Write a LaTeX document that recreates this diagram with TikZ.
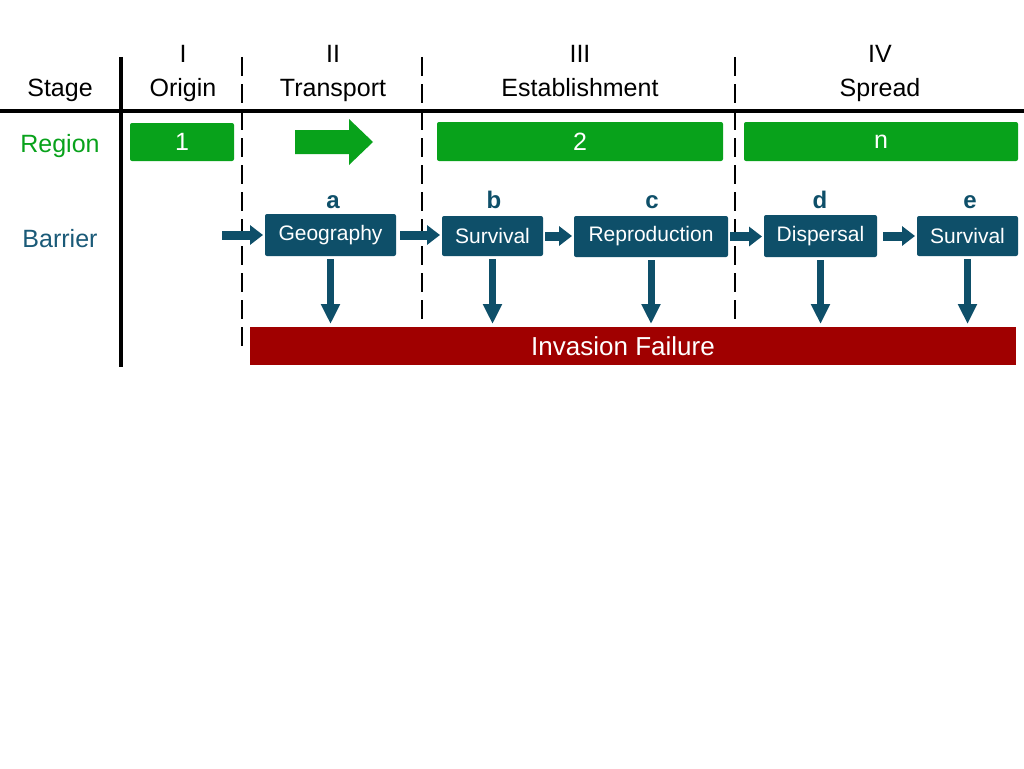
\documentclass[tikz,border=0pt]{standalone}
\usepackage{fontspec}
\setmainfont{Liberation Sans}
\usetikzlibrary{arrows.meta}
\definecolor{grn}{HTML}{08A21B}
\definecolor{tealb}{HTML}{0E4F69}
\definecolor{tealt}{HTML}{1A5A78}
\definecolor{redb}{HTML}{A00000}
\begin{document}
\begin{tikzpicture}[x=1pt,y=-1pt,
  every node/.style={inner sep=0pt, outer sep=0pt},
  hdr/.style={font=\fontsize{25}{30}\selectfont, anchor=base},
  greenbox/.style={fill=grn, rounded corners=2pt, text=white, font=\fontsize{25}{30}\selectfont},
  barbox/.style={fill=tealb, rounded corners=2pt, text=white, font=\fontsize{21}{25}\selectfont},
  lbl/.style={text=tealb, font=\bfseries\fontsize{24}{28}\selectfont, anchor=base},
  harrow/.style={draw=tealb, line width=9pt, -{Triangle[width=19pt,length=13pt]}},
  varrow/.style={draw=tealb, line width=7pt, -{Triangle[width=18pt,length=20pt]}, shorten <=3pt, shorten >=3pt},
  divider/.style={line width=2.6pt, dash pattern=on 19pt off 8pt},
  solidline/.style={line width=4pt}
]
\fill[white] (0,0) rectangle (1024,768);
\path[use as bounding box] (0,0) rectangle (1024,768);

% grid lines
\draw[solidline] (0,111) -- (1024,111);
\draw[solidline] (121,57) -- (121,367);
\draw[divider] (242,57) -- (242,352);
\draw[divider] (422,57) -- (422,324);
\draw[divider] (735,57) -- (735,324);

% header
\node[hdr] (stage) at (60,96) {Stage};
\node[hdr] (n1) at (183,63) {I};
\node[hdr] (origin) at (183,96) {Origin};
\node[hdr] (n2) at (333,63) {II};
\node[hdr] (transport) at (333,96) {Transport};
\node[hdr] (n3) at (580,63) {III};
\node[hdr] (establishment) at (580,96) {Establishment};
\node[hdr] (n4) at (880,63) {IV};
\node[hdr] (spread) at (880,96) {Spread};

% region row
\node[hdr, text=grn] (region) at (60,152) {Region};
\node[greenbox, minimum width=104pt, minimum height=38pt] (r1) at (182,142) {1};
\node[greenbox, minimum width=286pt, minimum height=39pt] (r2) at (580,141.5) {2};
\node[greenbox, minimum width=274pt, minimum height=39pt] (rn) at (881,141.5) {n};
\fill[grn] (295,130) -- (349,130) -- (349,119) -- (373,142) -- (349,165) -- (349,154) -- (295,154) -- cycle;

% barrier row
\node[hdr, text=tealt] (barrier) at (60,247) {Barrier};
\node[barbox, minimum width=131pt, minimum height=42pt] (geo) at (330.5,235) {Geography};
\node[barbox, minimum width=101pt, minimum height=40pt] (surv1) at (492.5,236) {Survival};
\node[barbox, minimum width=154pt, minimum height=41pt] (repro) at (651,236.5) {Reproduction};
\node[barbox, minimum width=113pt, minimum height=42pt] (disp) at (820.5,236) {Dispersal};
\node[barbox, minimum width=101pt, minimum height=40pt] (surv2) at (967.5,236) {Survival};

\node[lbl] (la) at (333,208) {a};
\node[lbl] (lb) at (494,208) {b};
\node[lbl] (lc) at (652,208) {c};
\node[lbl] (ld) at (820,208) {d};
\node[lbl] (le) at (970,208) {e};

% failure bar
\node[fill=redb, minimum width=766pt, minimum height=38pt] (fail) at (633,346) {};
\node[text=white, font=\fontsize{26}{30}\selectfont] (failtxt) at (623,346) {Invasion Failure};

% horizontal arrows
\coordinate (start) at (222,235);
\draw[harrow, shorten >=2pt] (start) -- (geo.west);
\draw[harrow, shorten <=4pt, shorten >=2pt] (geo.east) -- (geo.east -| surv1.west);
\draw[harrow, shorten <=2pt, shorten >=2pt] (surv1.east) -- (surv1.east -| repro.west);
\draw[harrow, shorten <=2pt, shorten >=2pt] (repro.east) -- (repro.east -| disp.west);
\draw[harrow, shorten <=6pt, shorten >=2pt] (disp.east) -- (disp.east -| surv2.west);

% down arrows
\draw[varrow] (geo.south) -- (geo.south |- fail.north);
\draw[varrow] (surv1.south) -- (surv1.south |- fail.north);
\draw[varrow] (repro.south) -- (repro.south |- fail.north);
\draw[varrow] (disp.south) -- (disp.south |- fail.north);
\draw[varrow] (surv2.south) -- (surv2.south |- fail.north);
\end{tikzpicture}
\end{document}
